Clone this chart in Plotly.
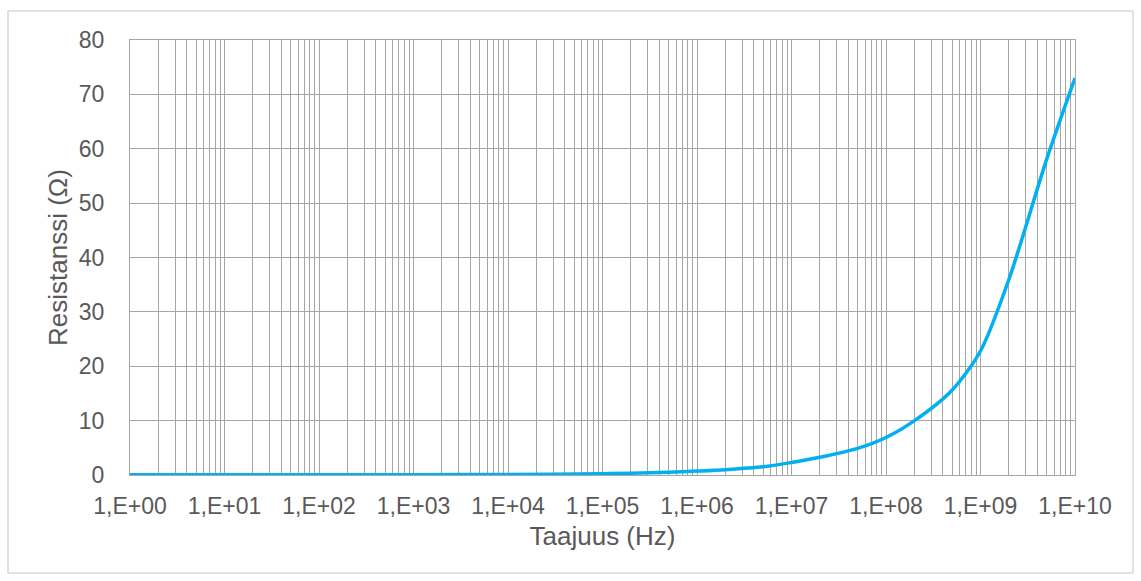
import plotly.graph_objects as go

# Frequency sweep (Hz) and measured resistance (ohm)
taajuus_hz = [1e0, 1e1, 1e2, 1e3, 1e4, 1e5, 2e5, 5e5, 1e6, 2e6, 5e6,
              1e7, 2e7, 5e7, 1e8, 2e8, 5e8, 1e9, 2e9, 5e9, 1e10]
resistanssi_ohm = [0.05, 0.05, 0.05, 0.06, 0.1, 0.25, 0.33, 0.5, 0.72, 0.98, 1.5,
                   2.3, 3.25, 4.9, 6.9, 10.0, 15.6, 22.8, 36.0, 58.0, 73.0]

# Decade tick positions and their Excel-style labels
x_tick_vals = [1e0, 1e1, 1e2, 1e3, 1e4, 1e5, 1e6, 1e7, 1e8, 1e9, 1e10]
x_tick_text = ["1,E+00", "1,E+01", "1,E+02", "1,E+03", "1,E+04", "1,E+05",
               "1,E+06", "1,E+07", "1,E+08", "1,E+09", "1,E+10"]
y_tick_vals = [0, 10, 20, 30, 40, 50, 60, 70, 80]

GRID = "#A6A6A6"
TEXT = "#595959"
FONT = "Liberation Sans, Arial, sans-serif"

fig = go.Figure()
fig.add_trace(go.Scatter(
    x=taajuus_hz, y=resistanssi_ohm, mode="lines",
    line=dict(color="#00B0F0", width=3.5, shape="spline", smoothing=0.8),
    hoverinfo="x+y", showlegend=False,
))

fig.update_layout(
    width=1141, height=581,
    margin=dict(l=130, r=66, t=40, b=106),
    paper_bgcolor="white", plot_bgcolor="white",
    font=dict(family=FONT, color=TEXT, size=23),
    xaxis=dict(
        type="log", range=[0, 10],
        tickmode="array", tickvals=x_tick_vals, ticktext=x_tick_text,
        showgrid=True, gridcolor=GRID, gridwidth=1.3,
        minor=dict(dtick="D1", showgrid=True, gridcolor=GRID, gridwidth=1.3, ticks=""),
        showline=True, linecolor=GRID, linewidth=1.3, mirror=True,
        zeroline=False, ticks="", ticklabelstandoff=10,
        tickfont=dict(size=23, color=TEXT),
        title=dict(text="Taajuus (Hz)", font=dict(size=26, color=TEXT), standoff=9),
    ),
    yaxis=dict(
        range=[0, 80], tickmode="array", tickvals=y_tick_vals,
        showgrid=True, gridcolor=GRID, gridwidth=1.3,
        showline=True, linecolor=GRID, linewidth=1.3, mirror=True,
        zeroline=False, ticks="", ticklabelstandoff=20,
        tickfont=dict(size=23, color=TEXT),
        title=dict(text="Resistanssi (Ω)", font=dict(size=26, color=TEXT), standoff=3),
    ),
)

# Light frame around the whole chart
fig.add_shape(type="rect", xref="paper", yref="paper",
              x0=(8 - 130) / 945, x1=(1133 - 130) / 945,
              y0=(475 - 573) / 435, y1=(475 - 11) / 435,
              line=dict(color="#D9D9D9", width=1.5), layer="below")

fig.write_html("out.html")
